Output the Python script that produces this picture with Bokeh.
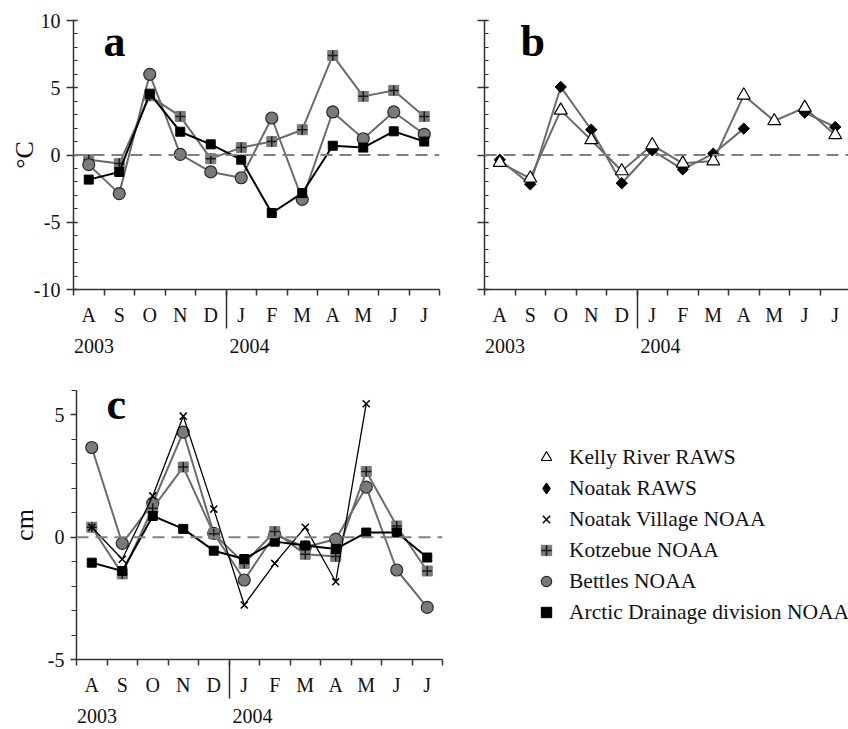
import numpy as np
from bokeh.plotting import figure
from bokeh.models import (Range1d, FixedTicker, LinearAxis, Span, Label,
                          Legend, LegendItem)
from bokeh.layouts import row, column
from bokeh.embed import file_html
from bokeh.resources import INLINE

nan = float("nan")

# ---------------- data ----------------
months = ["A", "S", "O", "N", "D", "J", "F", "M", "A", "M", "J", "J"]
years = ["2003", "2004"]

# panel a (deg C)
a_kotzebue = [-0.35, -0.64, 4.4, 2.87, -0.27, 0.55, 1.0, 1.88, 7.4, 4.36, 4.8, 2.87]
a_bettles = [-0.72, -2.87, 6.0, 0.05, -1.26, -1.69, 2.75, -3.3, 3.2, 1.21, 3.2, 1.54]
a_arctic = [-1.83, -1.26, 4.56, 1.73, 0.79, -0.35, -4.31, -2.83, 0.69, 0.55, 1.76, 1.0]

# panel b (deg C)
b_kelly = [-0.57, -1.73, 3.32, 1.12, -1.19, 0.74, -0.62, -0.45, 4.44, 2.53, 3.52, 1.49]
b_noatak = [-0.35, -2.18, 5.06, 1.88, -2.1, 0.35, -1.07, 0.1, 1.96, nan, 3.15, 2.08]

# panel c (cm)
c_bettles = [3.67, -0.25, 1.39, 4.3, 0.16, -1.75, 0.1, -0.4, -0.08, 2.05, -1.34, -2.87]
c_kotzebue = [0.41, -1.5, 1.19, 2.87, 0.14, -1.07, 0.23, -0.7, -0.79, 2.69, 0.46, -1.38]
c_village = [0.41, -0.9, 1.69, 4.95, 1.15, -2.77, -1.07, 0.41, -1.82, 5.46, nan, nan]
c_arctic = [-1.04, -1.38, 0.87, 0.34, -0.55, -0.89, -0.18, -0.34, -0.48, 0.19, 0.19, -0.83]

series_names = ["Kelly River RAWS", "Noatak RAWS", "Noatak Village NOAA",
                "Kotzebue NOAA", "Bettles NOAA", "Arctic Drainage division NOAA"]

# ---------------- style ----------------
FONT = "Liberation Serif"
GRAY = "#6b6b6b"
MGRAY = "#7a7a7a"
AXIS = "#333333"
TXT = "#111111"
x = np.arange(len(months)) + 0.5
FH = 269
MONTH_STANDOFF = 8
YEAR_STANDOFF = 10
SEP_LEN = 37


def make_panel(ylo, yhi, major, minor, xmax, fw, left, right, top, bottom,
               ylabel, label_standoff, show_ylabels, ticks_out_only):
    p = figure(frame_width=fw, frame_height=FH, x_range=Range1d(0, xmax),
               y_range=Range1d(ylo, yhi), x_axis_type=None, y_axis_type=None,
               output_backend="svg", toolbar_location=None,
               min_border_left=left, min_border_right=right,
               min_border_top=top, min_border_bottom=bottom)
    p.outline_line_color = None
    # y axis
    ya = LinearAxis(ticker=FixedTicker(ticks=major, minor_ticks=minor))
    ya.major_label_overrides = {v: (str(v) if show_ylabels else "") for v in major}
    ya.axis_line_color = AXIS
    ya.axis_line_width = 1.5
    ya.major_tick_line_color = AXIS
    ya.minor_tick_line_color = AXIS
    ya.major_tick_line_width = 1.5
    ya.minor_tick_line_width = 1.2
    if ticks_out_only:
        ya.major_tick_out, ya.major_tick_in = 6, 0
        ya.minor_tick_out, ya.minor_tick_in = 5, 0
    else:
        ya.major_tick_out, ya.major_tick_in = 7, 4
        ya.minor_tick_out, ya.minor_tick_in = 0, 4
    ya.major_label_text_font = FONT
    ya.major_label_text_color = TXT
    ya.major_label_text_font_size = "20px"
    ya.major_label_standoff = 6
    if ylabel:
        ya.axis_label = ylabel
        ya.axis_label_text_font = FONT
        ya.axis_label_text_font_style = "normal"
        ya.axis_label_text_font_size = "26px"
        ya.axis_label_text_color = TXT
        ya.axis_label_standoff = label_standoff
    p.add_layout(ya, "left")
    # month axis
    xa = LinearAxis(ticker=FixedTicker(ticks=list(x), minor_ticks=list(range(len(months) + 1))))
    xa.major_label_overrides = {float(c): m for c, m in zip(x, months)}
    xa.axis_line_color = AXIS
    xa.axis_line_width = 1.5
    xa.major_tick_line_color = None
    xa.major_tick_out, xa.major_tick_in = 0, 0
    xa.minor_tick_line_color = AXIS
    xa.minor_tick_line_width = 1.5
    xa.minor_tick_out, xa.minor_tick_in = 6, 0
    xa.major_label_text_font = FONT
    xa.major_label_text_color = TXT
    xa.major_label_text_font_size = "20px"
    xa.major_label_standoff = MONTH_STANDOFF
    p.add_layout(xa, "below")
    # year axis; its minor tick (pointing up) is the year separator line
    ypos = [0.67, 5.77]
    ya2 = LinearAxis(ticker=FixedTicker(ticks=ypos, minor_ticks=[5]))
    ya2.major_label_overrides = {v: t for v, t in zip(ypos, years)}
    ya2.axis_line_color = None
    ya2.major_tick_line_color = None
    ya2.major_tick_out, ya2.major_tick_in = 0, 0
    ya2.minor_tick_line_color = AXIS
    ya2.minor_tick_line_width = 1.5
    ya2.minor_tick_out, ya2.minor_tick_in = 0, SEP_LEN
    ya2.major_label_text_font = FONT
    ya2.major_label_text_color = TXT
    ya2.major_label_text_font_size = "20px"
    ya2.major_label_standoff = YEAR_STANDOFF
    p.add_layout(ya2, "below")
    # zero line
    p.add_layout(Span(location=0, dimension="width", line_color="#808080",
                      line_width=2, line_dash="12 7"))
    return p


def draw_kotzebue(p, y):
    p.line(x, y, line_color=GRAY, line_width=2)
    p.scatter(x, y, marker="square", size=10, fill_color=MGRAY, line_color=MGRAY)
    p.scatter(x, y, marker="cross", size=10, line_color="#1a1a1a", line_width=1.5)


def draw_bettles(p, y):
    p.line(x, y, line_color=GRAY, line_width=2)
    p.scatter(x, y, marker="circle", size=12, fill_color=MGRAY, line_color="#2b2b2b", line_width=1.2)


def draw_arctic(p, y):
    p.line(x, y, line_color="black", line_width=2)
    p.scatter(x, y, marker="square", size=9, fill_color="black", line_color="black")


def letter(p, xv, yv, t):
    p.add_layout(Label(x=xv, y=yv, text=t, text_font=FONT, text_font_style="bold",
                       text_font_size="44px", text_baseline="alphabetic",
                       text_color="black"))


# ---------------- panel a ----------------
pa = make_panel(-10, 10, [-10, -5, 0, 5, 10], list(range(-10, 11)), 12, 366,
                73, 5, 20, 75, "°C", -8, True, False)
draw_kotzebue(pa, a_kotzebue)
draw_bettles(pa, a_bettles)
draw_arctic(pa, a_arctic)
letter(pa, 0.98, 8.45, "a")

# ---------------- panel b ----------------
pb = make_panel(-10, 10, [-10, -5, 0, 5, 10], list(range(-10, 11)), 364 / 30.5, 364,
                40, 0, 20, 75, None, 0, False, False)
pb.line(x, b_noatak, line_color=GRAY, line_width=2)
pb.line(x, b_kelly, line_color=GRAY, line_width=2)
pb.scatter(x, b_noatak, marker="square", angle=np.pi / 4, size=8, fill_color="black", line_color="black")
pb.scatter(x, b_kelly, marker="triangle", size=13, fill_color="white", line_color="black", line_width=1.2)
letter(pb, 1.18, 8.45, "b")

# ---------------- panel c ----------------
pc = make_panel(-5, 6, [-5, 0, 5], list(range(-5, 7)), 12, 366,
                76, 10, 26, 60, "cm", 6, True, True)
draw_bettles(pc, c_bettles)
draw_kotzebue(pc, c_kotzebue)
pc.line(x, c_village, line_color="black", line_width=1.3)
pc.scatter(x, c_village, marker="x", size=10, line_color="black", line_width=1.5)
draw_arctic(pc, c_arctic)
letter(pc, 0.98, 5.43, "c")

# ---------------- legend panel ----------------
pl = figure(frame_width=396, frame_height=FH, x_range=Range1d(0, 1), y_range=Range1d(0, 1),
            x_axis_type=None, y_axis_type=None, output_backend="svg", toolbar_location=None,
            min_border_left=0, min_border_right=0, min_border_top=26, min_border_bottom=10)
pl.outline_line_color = None
nx, ny = [nan], [nan]   # legend proxies: nothing drawn in the frame
lg_kelly = pl.scatter(nx, ny, marker="triangle", fill_color="white", line_color="black", line_width=1.2)
lg_noatak = pl.scatter(nx, ny, marker="diamond", fill_color="black", line_color="black", line_width=1.5)
lg_village = pl.scatter(nx, ny, marker="x", line_color="black", line_width=1.5)
lg_kotz1 = pl.scatter(nx, ny, marker="square", fill_color=MGRAY, line_color=MGRAY)
lg_kotz2 = pl.scatter(nx, ny, marker="cross", line_color="#1a1a1a", line_width=1.5)
lg_bettles = pl.scatter(nx, ny, marker="circle", fill_color=MGRAY, line_color="#2b2b2b", line_width=1.2)
lg_arctic = pl.scatter(nx, ny, marker="square", fill_color="black", line_color="black")
leg_renderers = [[lg_kelly], [lg_noatak], [lg_village], [lg_kotz1, lg_kotz2], [lg_bettles], [lg_arctic]]
legend = Legend(items=[LegendItem(label=n, renderers=r) for n, r in zip(series_names, leg_renderers)],
                location=(81, 34), glyph_width=26, glyph_height=26, label_standoff=10,
                spacing=5, padding=0, margin=0, border_line_color=None,
                background_fill_alpha=0, label_text_font=FONT,
                label_text_font_size="21.5px", label_text_color=TXT)
pl.add_layout(legend)

layout = column(row(pa, pb), row(pc, pl))
open("out.html", "w").write(file_html(layout, INLINE))
